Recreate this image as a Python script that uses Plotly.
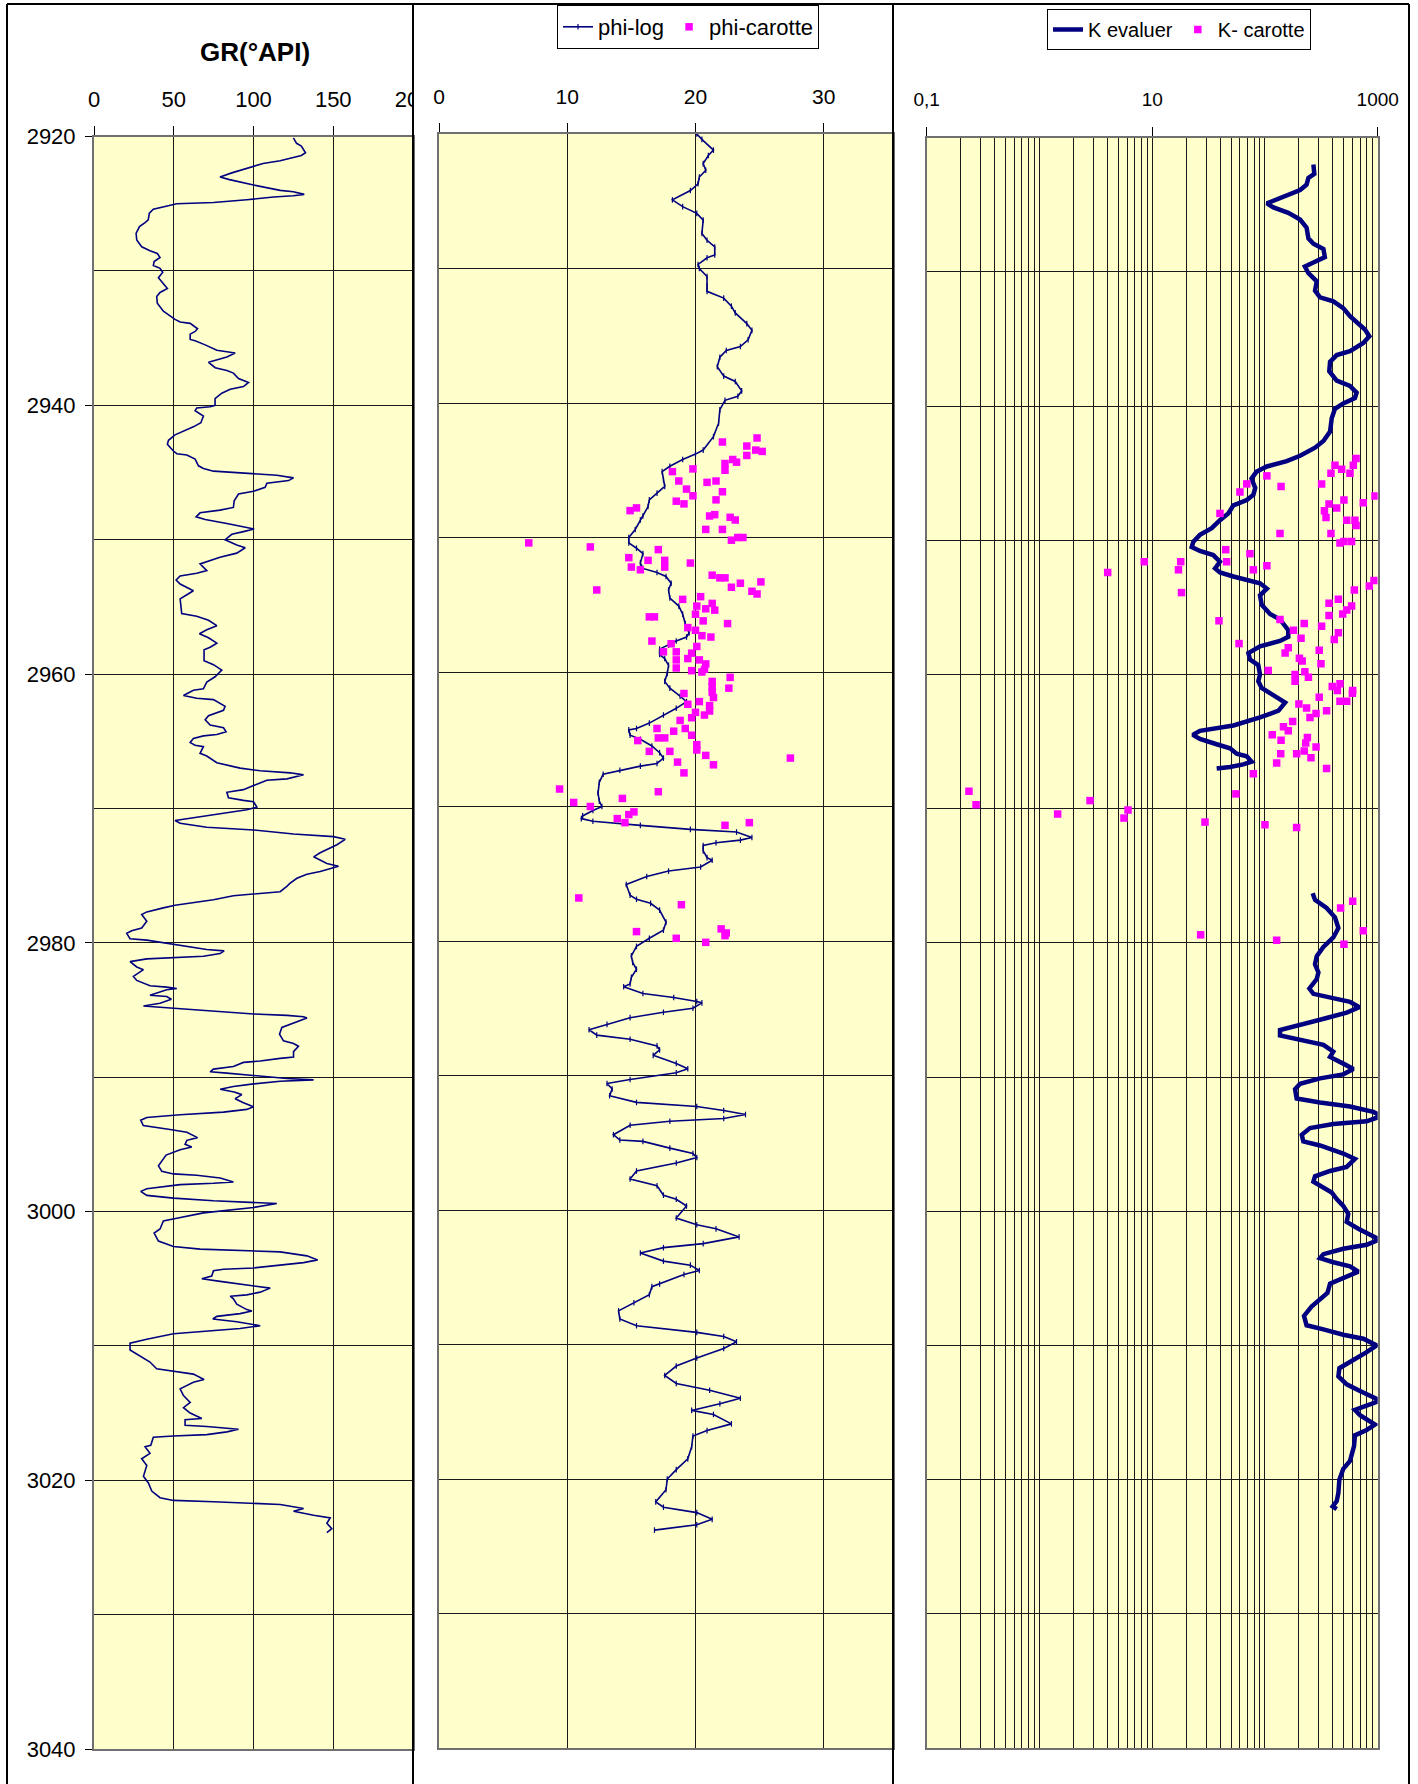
import plotly.graph_objects as go

W, H = 1418, 1784
FONT = "Liberation Sans, Arial, sans-serif"
NAVY = "#000080"
MAGENTA = "#FF00FF"
PLOT_BG = "#FFFFCC"
GRID = "#1a1a1a"
BORDER = "#707070"

# ---------------- Gamma ray log (°API) ----------------
gr_depth = [
    2920.1, 2920.5, 2920.7, 2921.2, 2921.4, 2921.8, 2922.0, 2922.2, 2922.7, 2923.0,
    2923.2, 2923.6, 2924.0, 2924.1, 2924.3, 2924.4, 2924.5, 2924.7, 2924.9, 2925.0,
    2925.2, 2925.4, 2925.7, 2926.2, 2926.4, 2926.7, 2927.2, 2927.7, 2928.2, 2928.5,
    2928.7, 2929.0, 2929.3, 2929.6, 2929.8, 2930.1, 2930.5, 2930.9, 2931.3, 2931.6,
    2931.9, 2932.4, 2933.0, 2933.6, 2933.8, 2933.9, 2934.3, 2934.5, 2934.7, 2935.1,
    2935.2, 2935.5, 2935.9, 2936.1, 2936.4, 2936.8, 2937.2, 2937.4, 2937.6, 2938.0,
    2938.3, 2938.6, 2938.8, 2939.1, 2939.5, 2940.0, 2940.1, 2940.2, 2940.4, 2940.8,
    2941.3, 2941.6, 2941.9, 2942.2, 2942.6, 2942.9, 2943.4, 2943.6, 2943.7, 2944.0,
    2944.5, 2944.7, 2944.9, 2945.0, 2945.1, 2945.2, 2945.4, 2945.6, 2945.8, 2946.1,
    2946.4, 2946.6, 2947.1, 2947.6, 2947.8, 2948.0, 2948.3, 2948.5, 2948.8, 2949.2,
    2949.4, 2949.6, 2950.0, 2950.4, 2950.6, 2951.0, 2951.3, 2951.6, 2951.8, 2952.3,
    2952.5, 2952.7, 2953.0, 2953.3, 2953.8, 2954.1, 2954.4, 2955.5, 2955.7, 2956.0,
    2956.4, 2956.7, 2957.0, 2957.3, 2957.7, 2958.0, 2958.2, 2959.0, 2959.3, 2959.7,
    2960.2, 2960.6, 2961.1, 2961.2, 2961.6, 2961.8, 2961.9, 2962.4, 2962.7, 2963.1,
    2963.4, 2963.8, 2964.0, 2964.3, 2964.5, 2964.6, 2964.8, 2965.1, 2965.3, 2965.4,
    2965.9, 2966.1, 2966.6, 2967.0, 2967.2, 2967.35, 2967.5, 2967.8, 2967.9, 2968.3,
    2968.6, 2968.8, 2969.2, 2969.4, 2969.5, 2969.9, 2970.1, 2970.4, 2970.7, 2970.9,
    2971.1, 2971.4, 2971.6, 2971.9, 2972.1, 2972.3, 2972.7, 2973.3, 2973.6, 2974.1,
    2974.3, 2974.7, 2974.9, 2975.2, 2975.6, 2975.8, 2976.2, 2976.3, 2976.4, 2976.5,
    2976.8, 2977.0, 2977.2, 2977.4, 2977.7, 2977.9, 2978.4, 2978.9, 2979.1, 2979.3,
    2979.7, 2979.8, 2980.1, 2980.5, 2980.6, 2980.8, 2981.0, 2981.1, 2981.2, 2981.4,
    2981.8, 2982.0, 2982.5, 2982.8, 2983.2, 2983.3, 2983.4, 2983.5, 2983.7, 2983.9,
    2984.0, 2984.2, 2984.5, 2984.7, 2984.8, 2984.9, 2985.1, 2985.3, 2985.4, 2985.5,
    2985.6, 2986.0, 2986.3, 2986.8, 2987.3, 2987.5, 2987.7, 2988.1, 2988.5, 2988.6,
    2988.8, 2988.9, 2989.2, 2989.4, 2989.6, 2989.7, 2989.9, 2990.1, 2990.2, 2990.3,
    2990.5, 2990.7, 2990.9, 2991.1, 2991.3, 2991.6, 2991.9, 2992.2, 2992.4, 2992.6,
    2992.8, 2993.0, 2993.2, 2993.6, 2993.9, 2994.1, 2994.5, 2994.7, 2995.0, 2995.2,
    2995.4, 2995.8, 2996.6, 2997.0, 2997.2, 2997.3, 2997.5, 2997.8, 2997.9, 2998.0,
    2998.3, 2998.5, 2998.8, 2999.0, 2999.2, 2999.3, 2999.4, 2999.7, 3000.0, 3000.1,
    3000.5, 3000.7, 3001.3, 3001.6, 3002.2, 3002.6, 3002.8, 3002.9, 3003.0, 3003.3,
    3003.6, 3003.8, 3004.0, 3004.2, 3004.3, 3004.4, 3004.8, 3005.0, 3005.2, 3005.5,
    3005.7, 3006.0, 3006.2, 3006.3, 3006.5, 3006.9, 3007.3, 3007.4, 3007.6, 3007.8,
    3008.0, 3008.2, 3008.4, 3008.5, 3008.7, 3008.9, 3009.1, 3009.5, 3009.8, 3010.3,
    3010.7, 3011.2, 3011.7, 3011.9, 3012.1, 3012.5, 3012.7, 3013.2, 3013.7, 3014.2,
    3014.6, 3015.0, 3015.4, 3015.5, 3015.9, 3016.0, 3016.1, 3016.2, 3016.4, 3016.6,
    3016.7, 3016.8, 3017.4, 3017.5, 3018.0, 3018.4, 3018.9, 3019.7, 3020.2, 3020.8,
    3021.3, 3021.5, 3021.6, 3021.7, 3021.8, 3022.1, 3022.3, 3022.6, 3022.8, 3023.2,
    3023.6, 3023.9,
]
gr_api = [
    125, 127, 130, 132.6, 130, 116.7, 106, 100, 86.4, 79,
    85, 100, 116.7, 125, 131.8, 125, 112.6, 95.8, 74.9, 51.9,
    43.5, 37.2, 34.7, 34, 32, 28.5, 26.4, 26.8, 29.9, 35.1,
    39.7, 41.4, 37.7, 37.2, 41.4, 43.1, 40.4, 43.1, 46, 41.4,
    39.3, 39.7, 43.5, 50.8, 54, 60.3, 64.9, 63.4, 60.3, 60.3,
    63.4, 69.7, 77, 88.5, 83.3, 71.8, 76, 83.3, 87.4, 90.6,
    96.9, 93.7, 85.4, 80.1, 75.9, 75.9, 72.8, 64.4, 63.4, 68.6,
    67, 62.3, 56.1, 50.8, 46.7, 46, 49.8, 51.9, 58.2, 63.4,
    65.5, 68.6, 74.9, 89.5, 100, 114.6, 125.1, 122, 108.4, 107.3,
    100, 90.6, 87.9, 87.4, 79, 66.5, 64, 69.7, 83.3, 100.4,
    93.7, 86.4, 82.2, 89.5, 94.8, 89.5, 79, 70.7, 66.5, 70.7,
    64.4, 54, 51.5, 54, 62.3, 58.2, 54, 55, 64.4, 71.8,
    77, 70.7, 66.1, 71.8, 77, 72.8, 69, 69, 74.9, 80.1,
    75.9, 70.7, 68.6, 62.3, 56.1, 64.4, 74.9, 82.2, 81.2, 71.8,
    69.7, 72.8, 81.2, 82.8, 77, 68.6, 62.3, 60.3, 63.4, 68.6,
    66.5, 70.7, 77, 91.6, 104.2, 123, 131.4, 121, 108.4, 100,
    93.7, 83.3, 84.3, 93.7, 100, 102.1, 95.8, 79.1, 60.3, 50.8,
    54, 70.7, 100, 125.1, 150.2, 157.5, 152.3, 141.8, 137.7, 146,
    153.3, 141.8, 133.5, 127.2, 122.6, 120.9, 116.7, 108.4, 100, 87.4,
    74.9, 62.3, 50.8, 43.5, 33.1, 29.9, 33.1, 29.9, 23.6, 20.5,
    22.6, 33.1, 49.8, 70.7, 81.6, 79.1, 68.6, 49.8, 33.1, 22.6,
    26.8, 31, 24.7, 26.8, 35.1, 45.6, 51.9, 45.6, 40.4, 35.1,
    45.6, 48.5, 41.4, 31, 41.4, 54, 74.9, 100, 121, 131.4,
    133.5, 125.1, 117.8, 116.3, 118.8, 125.1, 128.2, 125.1, 125.1, 116.7,
    104.2, 93.7, 87.4, 74.9, 72.8, 83.3, 100, 121, 137.7, 116.7,
    100, 87.4, 79.1, 87.9, 92.7, 88.5, 93.7, 100, 95.8, 81.2,
    54, 33.1, 29.3, 30.9, 47.7, 58.2, 64.9, 58.2, 57.1, 61.3,
    54, 45.2, 40.4, 42.5, 49.8, 64.4, 79.1, 87.4, 74.9, 54,
    33.1, 29.3, 33.1, 49.8, 74.9, 93.7, 114.6, 100, 79.1, 68.6,
    51.9, 43.5, 41.4, 37.7, 40.4, 49.8, 66.5, 100, 116.7, 133.5,
    140.2, 131.4, 116.7, 100, 81.2, 74.9, 73.8, 67.6, 79.1, 100,
    110.5, 104.2, 95.8, 85.4, 87.4, 89.5, 95.8, 99, 91.6, 77,
    74.5, 89.5, 100, 104.2, 91.6, 70.7, 49.8, 33.1, 22.6, 22.6,
    27.8, 35.1, 39.3, 49.8, 62.3, 69, 62.3, 54, 56.1, 60.3,
    56.1, 60.3, 67.6, 57.1, 57.1, 70.7, 83.3, 90.6, 83.3, 70.7,
    49.8, 37.2, 35.6, 32, 35.1, 29.9, 33.1, 31, 34.1, 36.2,
    41.4, 49.8, 74.9, 100, 116.7, 131.4, 125.1, 137.7, 148.1, 146,
    149.1, 146,
]

# ---------------- Porosity (%) ----------------
phi_log_depth = [
    2920.0, 2920.4, 2921.2, 2921.6, 2922.2, 2922.7, 2923.2, 2923.7, 2924.2, 2924.9,
    2925.4, 2925.9, 2926.4, 2927.4, 2927.9, 2928.4, 2929.0, 2929.2, 2929.7, 2930.0,
    2930.6, 2931.3, 2931.7, 2932.2, 2932.8, 2933.3, 2934.1, 2934.6, 2935.3, 2935.8,
    2936.1, 2936.6, 2937.3, 2938.0, 2938.4, 2939.1, 2939.5, 2939.8, 2940.5, 2941.5,
    2942.5, 2943.5, 2943.8, 2944.2, 2944.7, 2945.1, 2945.7, 2946.2, 2946.7, 2947.2,
    2947.7, 2948.4, 2948.7, 2949.4, 2950.0, 2950.4, 2950.8, 2951.2, 2951.9, 2952.3,
    2952.6, 2952.9, 2953.4, 2953.9, 2954.5, 2955.1, 2955.7, 2956.4, 2957.1, 2957.4,
    2957.7, 2958.0, 2958.3, 2958.7, 2959.0, 2959.5, 2960.1, 2960.7, 2961.2, 2961.8,
    2962.2, 2962.7, 2963.2, 2963.8, 2964.2, 2964.3, 2964.7, 2965.0, 2965.5, 2966.0,
    2966.4, 2966.8, 2967.0, 2967.3, 2967.6, 2968.2, 2969.0, 2969.6, 2970.0, 2970.3,
    2970.7, 2970.9, 2971.1, 2971.4, 2971.7, 2971.9, 2972.3, 2972.5, 2972.7, 2972.9,
    2973.3, 2973.8, 2974.0, 2974.5, 2974.8, 2975.2, 2975.8, 2976.6, 2976.9, 2977.2,
    2977.7, 2978.6, 2979.2, 2979.8, 2980.4, 2981.1, 2981.6, 2982.1, 2982.7, 2983.2,
    2983.4, 2983.9, 2984.2, 2984.5, 2984.6, 2985.0, 2985.3, 2985.7, 2986.2, 2986.6,
    2987.0, 2987.3, 2987.8, 2988.1, 2988.5, 2989.1, 2989.5, 2989.8, 2990.3, 2990.6,
    2991.0, 2991.5, 2992.0, 2992.3, 2992.6, 2992.9, 2993.2, 2993.4, 2993.7, 2994.4,
    2994.8, 2994.9, 2995.4, 2995.8, 2996.1, 2996.5, 2997.1, 2997.7, 2998.2, 2998.9,
    2999.2, 2999.7, 3000.6, 3001.1, 3001.4, 3002.0, 3002.5, 3002.8, 3003.2, 3003.8,
    3004.1, 3004.5, 3004.8, 3005.5, 3005.7, 3006.3, 3006.9, 3007.5, 3008.1, 3008.6,
    3009.1, 3009.4, 3009.8, 3010.3, 3011.0, 3011.6, 3012.3, 3012.9, 3013.4, 3014.0,
    3014.4, 3014.9, 3015.2, 3015.9, 3016.4, 3016.8, 3017.6, 3018.5, 3019.3, 3020.0,
    3020.8, 3021.7, 3022.1, 3022.5, 3023.0, 3023.4, 3023.8,
]
phi_log = [
    20.1, 20.5, 21.4, 21.0, 20.6, 20.8, 20.3, 20.2, 19.6, 18.2,
    19.0, 20.1, 20.6, 20.5, 20.9, 21.5, 21.5, 20.9, 20.2, 20.3,
    20.9, 20.9, 20.9, 22.2, 22.8, 23.1, 24.0, 24.4, 24.1, 23.5,
    22.4, 21.9, 21.7, 22.2, 23.1, 23.6, 23.3, 22.3, 21.9, 21.8,
    21.4, 20.6, 20.0, 19.0, 18.0, 17.4, 17.5, 17.6, 17.0, 16.4,
    16.3, 15.9, 15.7, 15.3, 14.8, 14.8, 15.4, 15.9, 15.7, 15.9,
    17.0, 17.7, 18.1, 17.9, 18.0, 18.7, 19.0, 19.2, 19.5, 19.3,
    18.5, 17.9, 17.2, 17.2, 17.6, 17.9, 17.8, 17.6, 18.0, 18.8,
    19.3, 18.5, 17.5, 16.4, 15.4, 14.8, 14.9, 15.7, 16.6, 17.2,
    17.5, 17.0, 15.7, 14.1, 12.8, 12.5, 12.4, 12.5, 12.7, 12.0,
    11.2, 11.1, 12.0, 15.7, 19.6, 23.2, 24.4, 23.5, 21.6, 20.6,
    20.6, 20.9, 21.3, 20.4, 17.9, 16.2, 14.6, 14.9, 15.4, 16.5,
    17.2, 17.7, 17.5, 16.4, 15.4, 15.0, 15.1, 15.4, 15.0, 14.9,
    14.4, 15.9, 18.3, 20.1, 20.5, 19.8, 17.5, 14.9, 13.1, 11.7,
    12.3, 14.9, 17.0, 17.2, 16.7, 18.5, 19.4, 18.5, 14.9, 13.1,
    13.5, 13.3, 15.4, 20.1, 22.2, 23.9, 22.2, 18.0, 14.9, 13.6,
    14.1, 15.9, 18.0, 19.8, 20.1, 18.5, 15.4, 14.9, 17.0, 17.5,
    18.5, 19.3, 18.5, 20.1, 21.6, 23.4, 20.6, 17.5, 15.7, 17.5,
    19.6, 20.3, 19.1, 17.2, 16.6, 16.4, 15.2, 14.0, 14.1, 15.4,
    20.1, 22.2, 23.2, 22.2, 20.1, 18.5, 17.6, 18.5, 21.1, 23.5,
    21.9, 19.7, 21.4, 22.8, 20.9, 19.8, 19.7, 19.4, 18.5, 17.8,
    17.7, 16.9, 17.5, 20.1, 21.3, 20.1, 16.8,
]

phi_core_depth = [
    2942.9, 2942.6, 2943.2, 2943.5, 2943.6, 2943.9, 2944.2, 2944.4, 2944.5, 2945.0,
    2944.9, 2945.1, 2945.8, 2945.9, 2945.8, 2946.6, 2946.4, 2946.9, 2947.2, 2947.3,
    2947.5, 2948.0, 2947.8, 2948.4, 2948.3, 2948.5, 2948.7, 2949.4, 2949.4, 2950.2,
    2950.0, 2950.0, 2950.4, 2950.7, 2950.9, 2951.5, 2951.7, 2951.7, 2952.2, 2952.2,
    2952.4, 2951.9, 2952.8, 2953.0, 2953.0, 2953.7, 2953.4, 2953.3, 2954.0, 2954.2,
    2953.9, 2954.6, 2954.4, 2954.9, 2955.1, 2955.3, 2955.4, 2955.7, 2955.9, 2955.9,
    2956.2, 2956.4, 2956.7, 2956.9, 2957.3, 2957.4, 2957.7, 2957.9, 2958.1, 2958.5,
    2958.5, 2958.6, 2959.0, 2959.1, 2959.1, 2959.4, 2959.7, 2959.9, 2960.0, 2959.8,
    2960.4, 2960.7, 2961.1, 2961.2, 2961.6, 2961.5, 2961.9, 2962.2, 2962.4, 2962.5,
    2962.9, 2963.2, 2963.0, 2963.4, 2963.6, 2964.2, 2964.2, 2964.4, 2964.9, 2964.9,
    2964.7, 2965.1, 2965.4, 2965.8, 2965.9, 2965.9, 2966.2, 2966.4, 2966.7, 2966.9,
    2967.5, 2968.7, 2968.9, 2969.4, 2969.7, 2970.0, 2970.4, 2970.6, 2970.9, 2971.2,
    2971.4, 2971.2, 2976.8, 2977.3, 2979.3, 2979.8, 2980.1, 2979.1, 2979.4, 2979.6,
]
phi_core = [
    22.1, 24.8, 24.0, 24.7, 25.2, 24.0, 22.9, 23.2, 22.3, 22.3,
    19.8, 18.2, 18.7, 20.9, 21.6, 22.1, 19.3, 19.8, 21.6, 18.5,
    19.1, 14.9, 15.4, 21.1, 21.5, 22.7, 23.1, 20.8, 22.1, 22.8,
    23.3, 23.7, 7.0, 11.8, 17.1, 14.8, 16.3, 17.6, 15.0, 17.6,
    15.7, 19.6, 21.3, 21.9, 22.3, 22.8, 23.5, 25.1, 24.4, 24.8,
    12.3, 19.0, 20.4, 21.3, 20.1, 20.8, 21.5, 20.0, 16.4, 16.8,
    20.6, 22.5, 19.4, 20.0, 20.5, 21.2, 16.6, 18.1, 20.1, 17.5,
    18.5, 19.7, 19.4, 18.5, 20.3, 20.8, 18.5, 19.7, 20.5, 20.7,
    22.7, 21.3, 21.3, 22.6, 19.1, 21.3, 21.4, 20.3, 19.4, 21.1,
    21.1, 20.7, 20.0, 19.7, 18.8, 17.0, 19.2, 18.3, 17.1, 17.6,
    19.7, 15.5, 20.1, 20.1, 16.4, 18.0, 20.8, 27.4, 18.6, 21.4,
    19.1, 9.4, 17.1, 14.3, 10.5, 11.8, 15.2, 14.8, 13.9, 14.5,
    22.3, 24.2, 10.9, 18.9, 15.4, 18.5, 20.8, 22.0, 22.4, 22.3,
]

# ---------------- Permeability (mD) ----------------
# None separates the two evaluated intervals
k_eval_depth = [
    2922.0, 2922.7, 2923.0, 2923.5, 2923.9, 2924.2, 2924.6, 2924.9, 2925.2, 2925.6,
    2926.1, 2926.7, 2927.5, 2927.9, 2928.3, 2928.9, 2929.3, 2929.6, 2930.1, 2930.7,
    2931.4, 2931.9, 2932.2, 2932.7, 2933.3, 2933.8, 2934.3, 2934.8, 2935.3, 2935.9,
    2936.2, 2936.7, 2937.4, 2938.1, 2938.5, 2939.0, 2939.4, 2939.8, 2940.2, 2940.9,
    2941.9, 2942.6, 2943.1, 2943.7, 2944.1, 2944.5, 2944.9, 2945.4, 2946.1, 2946.6,
    2947.0, 2947.4, 2948.0, 2948.5, 2949.1, 2949.6, 2950.1, 2950.5, 2950.8, 2951.1,
    2951.6, 2952.1, 2952.4, 2952.7, 2953.0, 2953.2, 2953.6, 2954.1, 2954.8, 2955.5,
    2955.9, 2956.7, 2957.2, 2957.5, 2957.9, 2958.4, 2958.9, 2959.3, 2960.0, 2960.5,
    2961.0, 2961.4, 2961.8, 2962.1, 2962.7, 2963.2, 2963.8, 2964.2, 2964.5, 2964.8,
    2965.2, 2965.5, 2965.9, 2966.1, 2966.5, 2966.7, 2966.9, 2967.0,
    None,
    2976.3, 2976.8, 2977.4, 2978.1, 2978.9, 2979.6, 2980.3, 2981.0, 2981.6, 2982.2,
    2982.7, 2983.4, 2983.8, 2984.1, 2984.4, 2984.8, 2985.2, 2985.6, 2986.1, 2986.5,
    2986.9, 2987.2, 2987.6, 2988.1, 2988.5, 2989.0, 2989.4, 2989.8, 2990.1, 2990.5,
    2990.9, 2991.6, 2991.9, 2992.2, 2992.6, 2992.9, 2993.3, 2993.5, 2993.8, 2994.3,
    2994.8, 2995.1, 2995.7, 2996.1, 2996.7, 2997.0, 2997.4, 2997.8, 2998.1, 2998.6,
    2999.1, 2999.6, 3000.2, 3000.8, 3001.3, 3001.7, 3002.1, 3002.5, 3002.8, 3003.2,
    3003.5, 3003.8, 3004.1, 3004.5, 3004.9, 3005.4, 3006.1, 3006.6, 3007.1, 3007.8,
    3008.5, 3008.8, 3009.2, 3009.5, 3010.0, 3010.5, 3011.2, 3011.7, 3012.3, 3012.9,
    3013.4, 3014.1, 3014.4, 3014.8, 3015.2, 3015.9, 3016.3, 3016.7, 3017.5, 3018.6,
    3019.2, 3020.0, 3021.0, 3021.6, 3022.0, 3022.2,
]
k_eval = [
    269, 274, 243, 234, 205, 167, 127, 104, 119, 161,
    205, 234, 243, 269, 330, 340, 269, 226, 243, 288,
    278, 308, 404, 495, 568, 673, 771, 843, 745, 568,
    433, 378, 372, 433, 568, 650, 628, 495, 418, 391,
    378, 330, 278, 205, 156, 104, 84, 76, 82, 79,
    69, 52.5, 47.3, 39.9, 33.7, 26.5, 23.2, 22.4, 26.5, 34.8,
    39.9, 36.1, 39.9, 52.5, 73.6, 90.4, 104, 90.4, 93.5, 111,
    136, 161, 161, 136, 90.4, 71.3, 73.8, 87.3, 90.4, 87.3,
    93.5, 111, 136, 151, 132, 90.4, 52.5, 26.5, 22.9, 26.5,
    37.3, 49, 56.1, 68.9, 76.2, 64.3, 49, 37.3,
    None,
    265, 278, 352, 418, 448, 404, 330, 288, 278, 298,
    288, 248, 269, 378, 568, 687, 531, 352, 205, 136,
    136, 205, 330, 404, 378, 495, 608, 495, 308, 205,
    185, 191, 308, 568, 914, 1084, 798, 404, 251, 212,
    219, 308, 495, 628, 531, 378, 278, 269, 308, 391,
    433, 495, 548, 531, 673, 853, 1033, 798, 495, 330,
    308, 404, 568, 673, 531, 378, 358, 308, 259, 222,
    234, 330, 495, 745, 979, 798, 568, 457, 448, 531,
    697, 1047, 853, 628, 697, 946, 798, 628, 617, 568,
    495, 457, 448, 433, 399, 433,
]

k_core_depth = [
    2945.2, 2945.8, 2946.4, 2946.0, 2945.8, 2945.0, 2944.4, 2944.7, 2945.0, 2944.4,
    2943.9, 2946.7, 2947.2, 2947.0, 2947.3, 2947.6, 2947.8, 2948.3, 2948.5, 2948.5,
    2948.9, 2948.0, 2949.5, 2949.5, 2950.2, 2950.1, 2950.1, 2950.7, 2951.6, 2951.0,
    2952.2, 2951.9, 2951.6, 2952.4, 2951.6, 2952.2, 2953.9, 2953.0, 2953.4, 2953.7,
    2954.4, 2954.7, 2954.9, 2955.2, 2955.5, 2955.6, 2956.0, 2955.9, 2956.7, 2956.2,
    2956.4, 2956.9, 2957.4, 2957.3, 2957.7, 2958.0, 2958.4, 2958.2, 2958.8, 2959.0,
    2959.2, 2959.7, 2959.8, 2960.0, 2960.2, 2960.5, 2960.9, 2960.7, 2961.2, 2961.2,
    2961.4, 2961.7, 2962.0, 2962.0, 2962.2, 2962.5, 2962.9, 2963.2, 2962.7, 2963.5,
    2963.9, 2964.2, 2964.5, 2964.9, 2964.7, 2965.1, 2965.4, 2965.7, 2965.9, 2966.2,
    2965.9, 2966.6, 2967.0, 2967.4, 2968.9, 2968.7, 2969.7, 2969.4, 2970.4, 2970.1,
    2970.7, 2971.0, 2971.2, 2971.4, 2979.4, 2979.8, 2977.4, 2976.9, 2979.1, 2980.1,
]
k_core = [
    104, 69, 60, 139, 318, 385, 418, 479, 568, 608,
    643, 946, 745, 502, 370, 433, 337, 348, 531, 628,
    643, 39.9, 136, 385, 463, 502, 587, 44.9, 45.7, 73.6,
    78.9, 104, 8.5, 4.03, 17.9, 17.1, 18.2, 927, 843, 621,
    448, 370, 587, 531, 489, 370, 39.1, 136, 179, 223,
    318, 448, 412, 209, 58.9, 161, 151, 303, 202, 214,
    314, 107, 226, 185, 243, 185, 395, 463, 439, 600,
    596, 303, 463, 531, 200, 234, 284, 251, 352, 176,
    146, 161, 116, 139, 238, 230, 284, 223, 191, 256,
    138, 127, 352, 78.9, 55.3, 0.237, 0.274, 2.81, 1.45, 6.10,
    5.62, 29.4, 100, 191, 26.9, 127, 469, 600, 745, 502,
]

gr_ticks = [0, 50, 100, 150, 200]
phi_ticks = [0, 10, 20, 30]
k_tickvals = [0.1, 10, 1000]
k_ticktext = ["0,1", "10", "1000"]
depth_range = [3040, 2920]


def fx(px):
    return px / W


def fy(px):
    return 1 - px / H


def tfont(size):
    return dict(family=FONT, size=size, color="black")


fig = go.Figure()

fig.add_trace(go.Scatter(
    x=gr_api, y=gr_depth, mode="lines", name="GR",
    line=dict(color=NAVY, width=1.6), xaxis="x", yaxis="y", showlegend=False,
))
fig.add_trace(go.Scatter(
    x=phi_log, y=phi_log_depth, mode="lines+markers", name="phi-log",
    line=dict(color=NAVY, width=1.6),
    marker=dict(symbol="line-ns", size=4, line=dict(color=NAVY, width=1.2)),
    xaxis="x2", yaxis="y2", legend="legend",
))
fig.add_trace(go.Scatter(
    x=phi_core, y=phi_core_depth, mode="markers", name="phi-carotte",
    marker=dict(symbol="square", size=7.5, color=MAGENTA),
    xaxis="x2", yaxis="y2", legend="legend",
))
fig.add_trace(go.Scatter(
    x=k_eval, y=k_eval_depth, mode="lines", name="K evaluer",
    line=dict(color=NAVY, width=4.5), connectgaps=False,
    xaxis="x3", yaxis="y3", legend="legend2",
))
fig.add_trace(go.Scatter(
    x=k_core, y=k_core_depth, mode="markers", name="K- carotte",
    marker=dict(symbol="square", size=7.5, color=MAGENTA),
    xaxis="x3", yaxis="y3", legend="legend2",
))

axis_frame = dict(showline=True, mirror=True, linecolor=BORDER, linewidth=2,
                  zeroline=False, gridcolor=GRID, gridwidth=1)
x_common = dict(side="top", ticks="outside", ticklen=9, tickcolor="black",
                tickwidth=1, **axis_frame)
y_common = dict(range=depth_range, showgrid=True, **axis_frame)

fig.update_layout(
    width=W, height=H,
    margin=dict(l=0, r=0, t=0, b=0, pad=0, autoexpand=False),
    paper_bgcolor="white", plot_bgcolor=PLOT_BG,
    font=dict(family=FONT, color="black"),
    xaxis=dict(domain=[fx(94), fx(413)], anchor="y", range=[0, 200],
               tickvals=gr_ticks, showgrid=True, tickfont=tfont(22),
               ticklabelstandoff=10, **x_common),
    yaxis=dict(domain=[fy(1749), fy(136.6)], anchor="x", dtick=20, tick0=2920,
               ticks="outside", ticklen=7, tickcolor="black", tickfont=tfont(22),
               ticklabelstandoff=5,
               minor=dict(dtick=10, tick0=2920, showgrid=True, gridcolor=GRID, gridwidth=1),
               **y_common),
    xaxis2=dict(domain=[fx(439), fx(893)], anchor="y2", range=[0, 35.4],
                tickvals=phi_ticks, showgrid=True, tickfont=tfont(21),
                ticklabelstandoff=11, **x_common),
    yaxis2=dict(domain=[fy(1748), fy(134)], anchor="x2", dtick=10, tick0=2920,
                showticklabels=False, ticks="", **y_common),
    xaxis3=dict(domain=[fx(926.7), fx(1377.7)], anchor="y3", type="log",
                range=[-1, 3], tickvals=k_tickvals, ticktext=k_ticktext,
                showgrid=True, tickfont=tfont(19), ticklabelstandoff=13,
                minor=dict(dtick="D1", showgrid=True, gridcolor=GRID, gridwidth=1, ticks=""),
                **x_common),
    yaxis3=dict(domain=[fy(1748), fy(137.7)], anchor="x3", dtick=10, tick0=2920,
                showticklabels=False, ticks="", **y_common),
    legend=dict(x=fx(557), y=fy(5), xanchor="left", yanchor="top",
                orientation="h", bgcolor="white", bordercolor="black",
                borderwidth=1, font=tfont(22), itemwidth=30),
    legend2=dict(x=fx(1047), y=fy(9), xanchor="left", yanchor="top",
                 orientation="h", bgcolor="white", bordercolor="black",
                 borderwidth=1, font=tfont(20), itemwidth=30),
    annotations=[dict(
        text="<b>GR(°API)</b>", xref="paper", yref="paper",
        x=fx(255), y=fy(52), xanchor="center", yanchor="middle",
        showarrow=False, font=tfont(26),
    )],
)

# panel frames and the clipping of the GR scale at the panel edge
frame_line = dict(color="black", width=2)
shapes = [
    dict(type="rect", xref="paper", yref="paper", x0=fx(414), x1=fx(431),
         y0=fy(126), y1=fy(60), fillcolor="white", line=dict(width=0), layer="above"),
    dict(type="line", xref="paper", yref="paper", x0=fx(7), x1=fx(7),
         y0=fy(4), y1=0, line=frame_line, layer="above"),
    dict(type="line", xref="paper", yref="paper", x0=fx(7), x1=fx(1409),
         y0=fy(4), y1=fy(4), line=frame_line, layer="above"),
    dict(type="line", xref="paper", yref="paper", x0=fx(1409), x1=fx(1409),
         y0=fy(4), y1=0, line=frame_line, layer="above"),
    dict(type="line", xref="paper", yref="paper", x0=fx(413), x1=fx(413),
         y0=fy(4), y1=0, line=frame_line, layer="above"),
    dict(type="line", xref="paper", yref="paper", x0=fx(893), x1=fx(893),
         y0=fy(4), y1=0, line=frame_line, layer="above"),
]
fig.update_layout(shapes=shapes)

fig.write_html("out.html")
